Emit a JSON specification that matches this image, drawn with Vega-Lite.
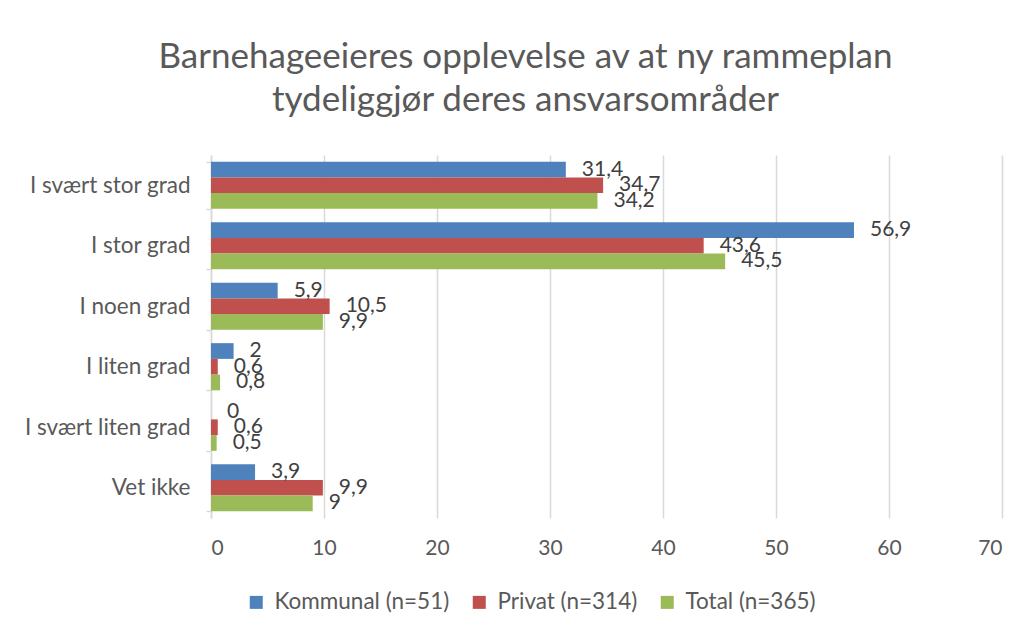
{
  "$schema": "https://vega.github.io/schema/vega-lite/v6.json",
  "width": 791,
  "height": 363,
  "autosize": {"type": "none"},
  "padding": {"left": 211, "top": 155, "right": 33, "bottom": 114},
  "background": "white",
  "title": {
    "text": ["Barnehageeieres opplevelse av at ny rammeplan", "tydeliggjør deres ansvarsområder"],
    "anchor": "middle",
    "frame": "group",
    "dx": -81,
    "offset": 26,
    "font": "Lato",
    "fontSize": 35,
    "fontWeight": "normal",
    "color": "#595959",
    "lineHeight": 43
  },
  "data": {
    "values": [
      {"kategori": "I svært stor grad", "gruppe": "Kommunal (n=51)", "verdi": 31.4},
      {"kategori": "I svært stor grad", "gruppe": "Privat (n=314)", "verdi": 34.7},
      {"kategori": "I svært stor grad", "gruppe": "Total (n=365)", "verdi": 34.2},
      {"kategori": "I stor grad", "gruppe": "Kommunal (n=51)", "verdi": 56.9},
      {"kategori": "I stor grad", "gruppe": "Privat (n=314)", "verdi": 43.6},
      {"kategori": "I stor grad", "gruppe": "Total (n=365)", "verdi": 45.5},
      {"kategori": "I noen grad", "gruppe": "Kommunal (n=51)", "verdi": 5.9},
      {"kategori": "I noen grad", "gruppe": "Privat (n=314)", "verdi": 10.5},
      {"kategori": "I noen grad", "gruppe": "Total (n=365)", "verdi": 9.9},
      {"kategori": "I liten grad", "gruppe": "Kommunal (n=51)", "verdi": 2},
      {"kategori": "I liten grad", "gruppe": "Privat (n=314)", "verdi": 0.6},
      {"kategori": "I liten grad", "gruppe": "Total (n=365)", "verdi": 0.8},
      {"kategori": "I svært liten grad", "gruppe": "Kommunal (n=51)", "verdi": 0},
      {"kategori": "I svært liten grad", "gruppe": "Privat (n=314)", "verdi": 0.6},
      {"kategori": "I svært liten grad", "gruppe": "Total (n=365)", "verdi": 0.5},
      {"kategori": "Vet ikke", "gruppe": "Kommunal (n=51)", "verdi": 3.9},
      {"kategori": "Vet ikke", "gruppe": "Privat (n=314)", "verdi": 9.9},
      {"kategori": "Vet ikke", "gruppe": "Total (n=365)", "verdi": 9}
    ]
  },
  "encoding": {
    "y": {
      "field": "kategori",
      "type": "nominal",
      "sort": ["I svært stor grad", "I stor grad", "I noen grad", "I liten grad", "I svært liten grad", "Vet ikke"],
      "scale": {"paddingInner": 0.22, "paddingOuter": 0.11},
      "axis": {
        "title": null,
        "tickBand": "extent",
        "domainColor": "#D9D9D9",
        "domainWidth": 1.5,
        "tickColor": "#D9D9D9",
        "tickWidth": 1.5,
        "tickSize": 5,
        "labelPadding": 16,
        "labelFont": "Lato",
        "labelFontSize": 22.5,
        "labelColor": "#595959",
        "labelLimit": 300,
        "grid": false
      }
    },
    "yOffset": {
      "field": "gruppe",
      "type": "nominal",
      "sort": ["Kommunal (n=51)", "Privat (n=314)", "Total (n=365)"],
      "scale": {"paddingInner": 0, "paddingOuter": 0}
    },
    "x": {
      "field": "verdi",
      "type": "quantitative",
      "scale": {"domain": [0, 70], "nice": false},
      "axis": {
        "title": null,
        "values": [0, 10, 20, 30, 40, 50, 60, 70],
        "format": "d",
        "domain": false,
        "ticks": false,
        "grid": true,
        "gridColor": "#D9D9D9",
        "gridWidth": 1.5,
        "labelPadding": 19,
        "labelFont": "Lato",
        "labelFontSize": 21,
        "labelColor": "#595959"
      }
    }
  },
  "layer": [
    {
      "mark": {"type": "bar"},
      "encoding": {
        "color": {
          "field": "gruppe",
          "type": "nominal",
          "scale": {
            "domain": ["Kommunal (n=51)", "Privat (n=314)", "Total (n=365)"],
            "range": ["#4F81BD", "#C0504D", "#9BBB59"]
          },
          "legend": {
            "orient": "none",
            "legendX": 34,
            "legendY": 436,
            "direction": "horizontal",
            "title": null,
            "symbolType": "square",
            "symbolSize": 169,
            "symbolStrokeWidth": 0,
            "labelFont": "Lato",
            "labelFontSize": 22.5,
            "labelColor": "#595959",
            "labelLimit": 400,
            "labelOffset": 7,
            "columnPadding": 18
          }
        }
      }
    },
    {
      "mark": {"type": "text", "align": "left", "baseline": "middle", "dx": 16, "font": "Lato", "fontSize": 21, "color": "#404040"},
      "encoding": {
        "text": {"field": "verdi", "type": "quantitative", "format": ".1~f"}
      }
    }
  ],
  "config": {
    "locale": {"number": {"decimal": ",", "thousands": " ", "grouping": [3], "currency": ["", " kr"]}},
    "view": {"stroke": null}
  }
}
